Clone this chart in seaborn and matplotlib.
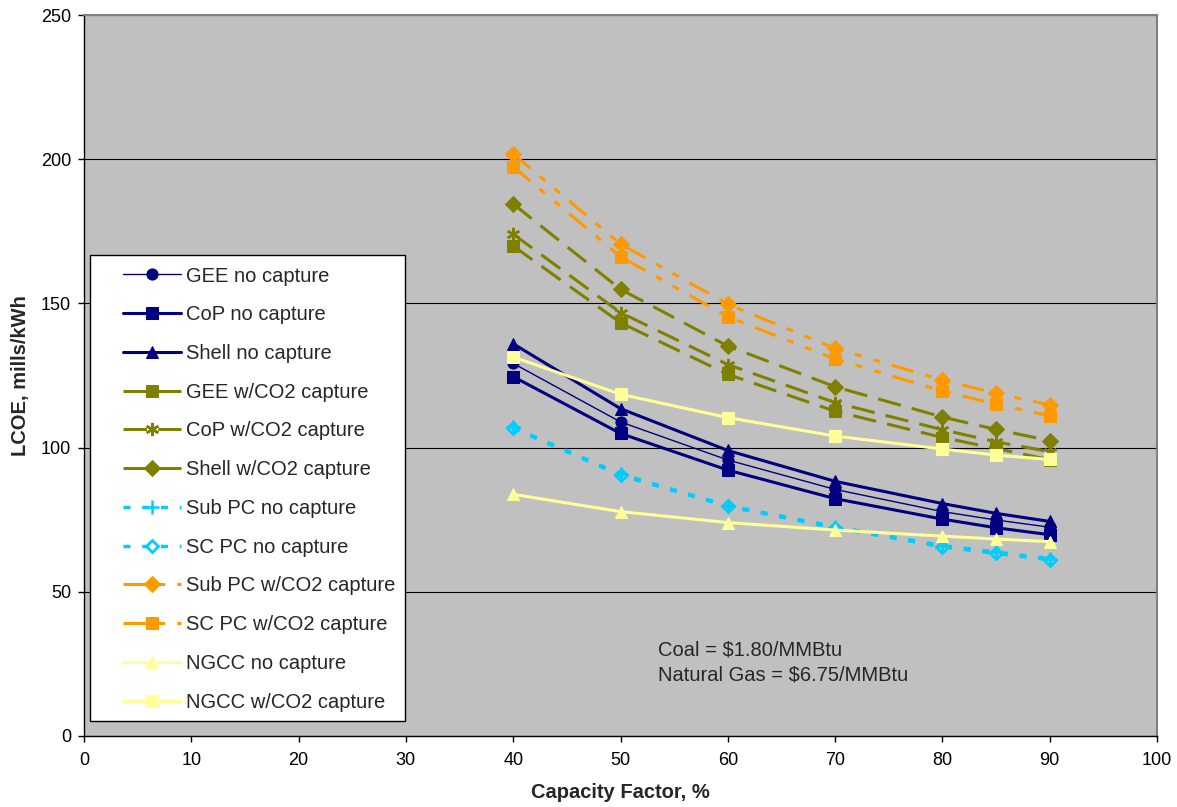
import pandas as pd
import seaborn as sns
import matplotlib.pyplot as plt
from matplotlib.patches import Rectangle

# capacity factor, %
cap_factor = [40, 50, 60, 70, 80, 85, 90]

# LCOE, mills/kWh
gee_no = [129.2, 108.9, 95.7, 85.5, 77.8, 74.9, 72.4]
cop_no = [124.6, 104.9, 92.2, 82.3, 75.2, 72.2, 69.8]
shell_no = [136.0, 113.5, 99.0, 88.3, 80.6, 77.2, 74.4]
gee_co2 = [169.9, 143.3, 125.4, 112.6, 103.5, 99.7, 95.8]
cop_co2 = [174.0, 146.8, 128.8, 115.6, 106.2, 102.0, 98.6]
shell_co2 = [184.5, 154.9, 135.2, 121.1, 110.6, 106.3, 102.4]
subpc_no = [107.0, 90.8, 79.9, 72.6, 66.0, 63.8, 61.5]
scpc_no = [106.7, 90.4, 79.6, 72.2, 65.6, 63.3, 61.1]
subpc_co2 = [201.8, 170.6, 149.7, 134.4, 123.4, 118.8, 114.8]
scpc_co2 = [197.4, 166.2, 145.4, 130.7, 119.6, 115.1, 111.0]
ngcc_no = [83.8, 77.8, 74.0, 71.4, 69.3, 68.3, 67.4]
ngcc_co2 = [131.4, 118.5, 110.4, 104.0, 99.5, 97.4, 95.9]

navy = '#000080'
olive = '#808000'
cyan = '#00CCFF'
orange = '#FF9900'
yellow = '#FFFF99'

olive_dash = (0, (7.7, 3.7))
cyan_dot = (0, (2.0, 3.4))
orange_dash = (0, (7.3, 4, 2.3, 4, 2.3, 4))

# label, values, color, marker, linestyle, lw, marker face
series = [
    ("GEE no capture", gee_no, navy, 'o', '-', 1.0, navy),
    ("CoP no capture", cop_no, navy, 's', '-', 2.2, navy),
    ("Shell no capture", shell_no, navy, '^', '-', 2.2, navy),
    ("GEE w/CO2 capture", gee_co2, olive, 's', olive_dash, 2.2, olive),
    ("CoP w/CO2 capture", cop_co2, olive, (6, 2, 0), olive_dash, 2.2, olive),
    ("Shell w/CO2 capture", shell_co2, olive, 'D', olive_dash, 2.2, olive),
    ("Sub PC no capture", subpc_no, cyan, '+', cyan_dot, 2.5, cyan),
    ("SC PC no capture", scpc_no, cyan, 'D', cyan_dot, 2.5, 'none'),
    ("Sub PC w/CO2 capture", subpc_co2, orange, 'D', orange_dash, 2.2, orange),
    ("SC PC w/CO2 capture", scpc_co2, orange, 's', orange_dash, 2.2, orange),
    ("NGCC no capture", ngcc_no, yellow, '^', '-', 2.2, yellow),
    ("NGCC w/CO2 capture", ngcc_co2, yellow, 's', '-', 2.2, yellow),
]

sns.set_theme(style="ticks")
plt.rcParams['font.family'] = ['Liberation Sans', 'DejaVu Sans']

fig = plt.figure(figsize=(11.77, 8.07), dpi=100)
ax = fig.add_axes([84/1177, (807-736)/807, (1157-84)/1177, (736-15)/807])
ax.set_facecolor('#C0C0C0')

for label, vals, col, mk, ls, lw, mfc in series:
    df = pd.DataFrame({"cf": cap_factor, "lcoe": vals})
    ms = 8
    mew = 0.75
    if mk == '+' or mk == (6, 2, 0):
        mew = 1.8
        ms = 9.5
    if mfc == 'none':
        mew = 2.0
        ms = 5.8
    sns.lineplot(data=df, x="cf", y="lcoe", ax=ax, color=col, lw=lw, linestyle=ls,
                 marker=mk, markersize=ms, markerfacecolor=mfc, markeredgecolor=col,
                 markeredgewidth=mew, errorbar=None, label=label)

ax.set_xlim(0, 100)
ax.set_ylim(0, 250)
ax.set_xticks(range(0, 101, 10))
ax.set_yticks(range(0, 251, 50))
ax.yaxis.grid(True, color='black', lw=0.8)
ax.xaxis.grid(False)
ax.set_axisbelow(True)
ax.tick_params(axis='both', labelsize=13, length=4.3, width=1, direction='out', colors='black')
ax.tick_params(axis='y', pad=5)
ax.tick_params(axis='x', pad=7)

for s in ['left', 'bottom']:
    ax.spines[s].set_color('black')
    ax.spines[s].set_linewidth(1)
for s in ['top', 'right']:
    ax.spines[s].set_color('#808080')
    ax.spines[s].set_linewidth(1.5)

ax.set_xlabel('Capacity Factor, %', fontsize=14.5, fontweight='bold')
ax.set_ylabel('LCOE, mills/kWh', fontsize=14.5, fontweight='bold')
ax.xaxis.set_label_coords(0.5, -0.065)
ax.yaxis.set_label_coords(-0.0503, 0.5)

ax.text(53.5, 27.74, r"Coal = \$1.80/MMBtu", fontsize=14.5, va='baseline', ha='left')
ax.text(53.5, 19.24, r"Natural Gas = \$6.75/MMBtu", fontsize=14.5, va='baseline', ha='left')

# legend box drawn separately so the padding can be uneven
ax.add_patch(Rectangle(((90-84)/1073, (736-721)/721), (405-90)/1073, (721-255)/721,
                       transform=ax.transAxes, facecolor='white', edgecolor='black',
                       lw=1, zorder=4))
leg = ax.legend(loc='upper left', bbox_to_anchor=((123-84)/1073, (736-266.5)/721),
                frameon=False, borderpad=0, borderaxespad=0, handlelength=2.89,
                handletextpad=0.25, labelspacing=0.98, fontsize=14.5, numpoints=1)
leg.set_zorder(5)

plt.savefig('out.png', dpi=100)
